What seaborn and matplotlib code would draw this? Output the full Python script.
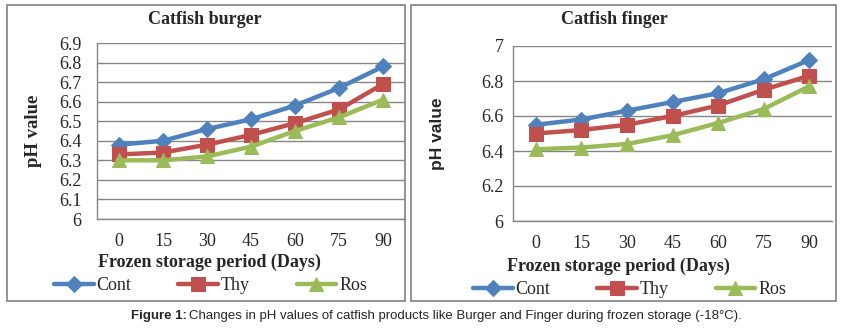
import matplotlib
matplotlib.use("Agg")
import matplotlib.pyplot as plt
import seaborn as sns
import pandas as pd
from matplotlib.patches import Rectangle
from matplotlib.font_manager import FontProperties

days = [0, 15, 30, 45, 60, 75, 90]
series_names = ["Cont", "Thy", "Ros"]

burger_cont = [6.38, 6.40, 6.46, 6.51, 6.58, 6.67, 6.78]
burger_thy = [6.33, 6.34, 6.38, 6.43, 6.49, 6.56, 6.69]
burger_ros = [6.30, 6.30, 6.32, 6.37, 6.45, 6.52, 6.61]

finger_cont = [6.55, 6.58, 6.63, 6.68, 6.73, 6.81, 6.92]
finger_thy = [6.50, 6.52, 6.55, 6.60, 6.66, 6.75, 6.83]
finger_ros = [6.41, 6.42, 6.44, 6.49, 6.56, 6.64, 6.77]

burger_yticks = [6.0, 6.1, 6.2, 6.3, 6.4, 6.5, 6.6, 6.7, 6.8, 6.9]
burger_yticklabels = ["6", "6.1", "6.2", "6.3", "6.4", "6.5", "6.6", "6.7", "6.8", "6.9"]
finger_yticks = [6.0, 6.2, 6.4, 6.6, 6.8, 7.0]
finger_yticklabels = ["6", "6.2", "6.4", "6.6", "6.8", "7"]

colors = {"Cont": "#4F81BD", "Thy": "#C0504D", "Ros": "#9BBB59"}
markers = {"Cont": "D", "Thy": "s", "Ros": "^"}
msizes = {"Cont": 8, "Thy": 9.5, "Ros": 10}


def long_df(cont, thy, ros):
    rows = []
    for name, vals in zip(series_names, [cont, thy, ros]):
        for d, v in zip(days, vals):
            rows.append({"Days": d, "pH": v, "Series": name})
    return pd.DataFrame(rows)


sns.set_style("white")
plt.rcParams["font.family"] = ["Liberation Serif", "DejaVu Serif"]

W, H = 845, 333
fig = plt.figure(figsize=(W / 100, H / 100), dpi=100)


def fx(px):
    return px / W


def fy(py):
    return 1 - py / H


# panel frames
for x0, x1 in [(7, 405), (411, 836)]:
    fig.patches.append(Rectangle((fx(x0), fy(301)), fx(x1 - x0), (301 - 5) / H,
                                 transform=fig.transFigure, fill=False,
                                 edgecolor="#808080", linewidth=1.2, zorder=0))


def draw_panel(rect, df, title, yticks, yticklabels, ylim, ylabel_fp, ylabel_x,
               ytick_pad, title_x, xlabel_y, legend_x, legend_y):
    ax = fig.add_axes(rect)
    for name in series_names:
        sub = df[df["Series"] == name]
        sns.lineplot(data=sub, x="Days", y="pH", ax=ax, color=colors[name],
                     marker=markers[name], markersize=msizes[name],
                     markeredgecolor=colors[name], linewidth=3.2,
                     label=name, legend=False)
    ax.set_xlim(-7.5, 97.5)
    ax.set_ylim(*ylim)
    ax.set_yticks(yticks)
    ax.set_yticklabels(yticklabels, fontsize=13)
    ax.set_xticks(days)
    ax.set_xticklabels([str(d) for d in days], fontsize=13)
    ax.tick_params(axis="x", length=0, pad=10)
    ax.tick_params(axis="y", length=4, color="#808080", direction="out", pad=ytick_pad)
    ax.yaxis.grid(True, color="#868686", linewidth=1.0)
    ax.xaxis.grid(False)
    for s in ["top", "right"]:
        ax.spines[s].set_visible(False)
    for s in ["left", "bottom"]:
        ax.spines[s].set_color("#868686")
        ax.spines[s].set_linewidth(1.0)
    ax.set_xlabel("")
    lab = ax.set_ylabel("pH value")
    lab.set_fontproperties(ylabel_fp)
    ax.yaxis.set_label_coords(ylabel_x, 0.5)
    fig.text(title_x, fy(20), title, ha="center", va="center",
             fontsize=13, fontweight="bold")
    fig.text(title_x + 0.005, xlabel_y, "Frozen storage period (Days)", ha="center",
             va="center", fontsize=13, fontweight="bold")
    handles = ax.get_lines()[:3]
    ax.legend(handles, series_names, loc="center left",
              bbox_to_anchor=(legend_x, legend_y), bbox_transform=fig.transFigure,
              ncol=3, frameon=False, fontsize=13, handlelength=2.2,
              handletextpad=0.15, columnspacing=2.6, borderaxespad=0,
              borderpad=0)
    return ax


df_b = long_df(burger_cont, burger_thy, burger_ros)
df_f = long_df(finger_cont, finger_thy, finger_ros)

fp_left = FontProperties(family="Liberation Serif", weight="bold", size=13.5)
fp_right = FontProperties(family="Liberation Sans", weight="bold", size=12.5)

draw_panel([fx(97), fy(219), fx(405 - 97), (219 - 43) / H], df_b,
           "Catfish burger", burger_yticks, burger_yticklabels, (6.0, 6.9),
           fp_left, (42 - 97) / 308, 7, fx(205), fy(262), fx(54), fy(286))
draw_panel([fx(513), fy(221), fx(832 - 513), (221 - 46) / H], df_f,
           "Catfish finger", finger_yticks, finger_yticklabels, (6.0, 7.0),
           fp_right, (445 - 513) / 319, 3, fx(614), fy(266), fx(473), fy(290))

# caption
cap_y = fy(316)
t1 = fig.text(fx(131), cap_y, "Figure 1:", ha="left", va="center",
              fontsize=9.5, fontweight="bold", family=["Liberation Sans"])
fig.canvas.draw()
bb = t1.get_window_extent()
fig.text(bb.x1 / W + 0.003, cap_y,
         "Changes in pH values of catfish products like Burger and Finger during frozen storage (-18°C).",
         ha="left", va="center", fontsize=9.5, family=["Liberation Sans"])

fig.savefig("out.png", dpi=100)
